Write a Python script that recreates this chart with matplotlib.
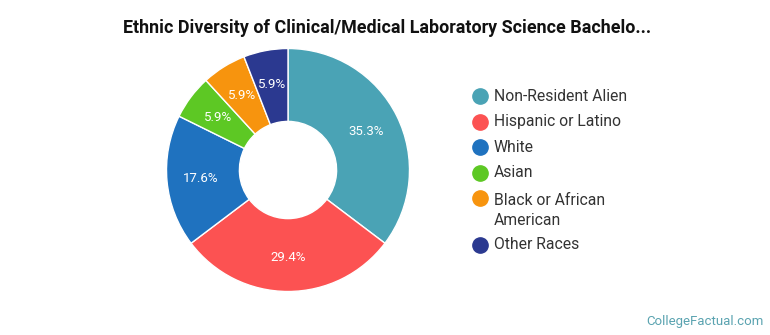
import matplotlib
matplotlib.use("Agg")
import matplotlib.pyplot as plt
from matplotlib.lines import Line2D

plt.rcParams['font.family'] = ['Roboto', 'DejaVu Sans']

#%% Data
categories = ["Non-Resident Alien", "Hispanic or Latino", "White", "Asian",
              "Black or African\nAmerican", "Other Races"]
shares = [35.3, 29.4, 17.6, 5.9, 5.9, 5.9]
colors = ["#4aa3b5", "#fc5252", "#1f72bf", "#5dc824", "#f7940e", "#2b3990"]

title = "Ethnic Diversity of Clinical/Medical Laboratory Science Bachelo..."

#%% Figure
W, H = 770, 335
fig = plt.figure(figsize=(W / 100, H / 100), dpi=100)

# donut centre and radius in pixels
cx, cy, r = 288, 170, 121.5
ax = fig.add_axes([(cx - r) / W, (H - cy - r) / H, 2 * r / W, 2 * r / H])

wedges, texts, autotexts = ax.pie(
    shares, colors=colors, startangle=90, counterclock=False,
    autopct=lambda p: f"{p:.1f}%", pctdistance=0.72,
    wedgeprops=dict(width=0.6, edgecolor="white", linewidth=1),
    textprops=dict(color="white", fontsize=9.5))
ax.set_xlim(-1, 1)
ax.set_ylim(-1, 1)
ax.set_aspect("equal")

fig.text(387 / W, 1 - 28 / H, title, ha="center", va="center",
         fontsize=12.9, fontweight="bold", color="#111111")

#%% Legend drawn by hand so the wrapped label sits like the original
y = 96
for cat, col in zip(categories, colors):
    fig.add_artist(Line2D([480 / W], [1 - y / H], marker="o", markersize=11,
                          color=col, transform=fig.transFigure))
    wrapped = "\n" in cat
    fig.text(494 / W, 1 - (y - 5 if wrapped else y) / H, cat, ha="left",
             va="top" if wrapped else "center",
             fontsize=11.3, color="#333333", linespacing=1.45)
    y += 25.5 + (21 if wrapped else 0)

fig.text(764 / W, 1 - 322 / H, "CollegeFactual.com", ha="right", va="center",
         fontsize=9.5, color="#5aa3b0")

fig.savefig("out.png", dpi=100)
